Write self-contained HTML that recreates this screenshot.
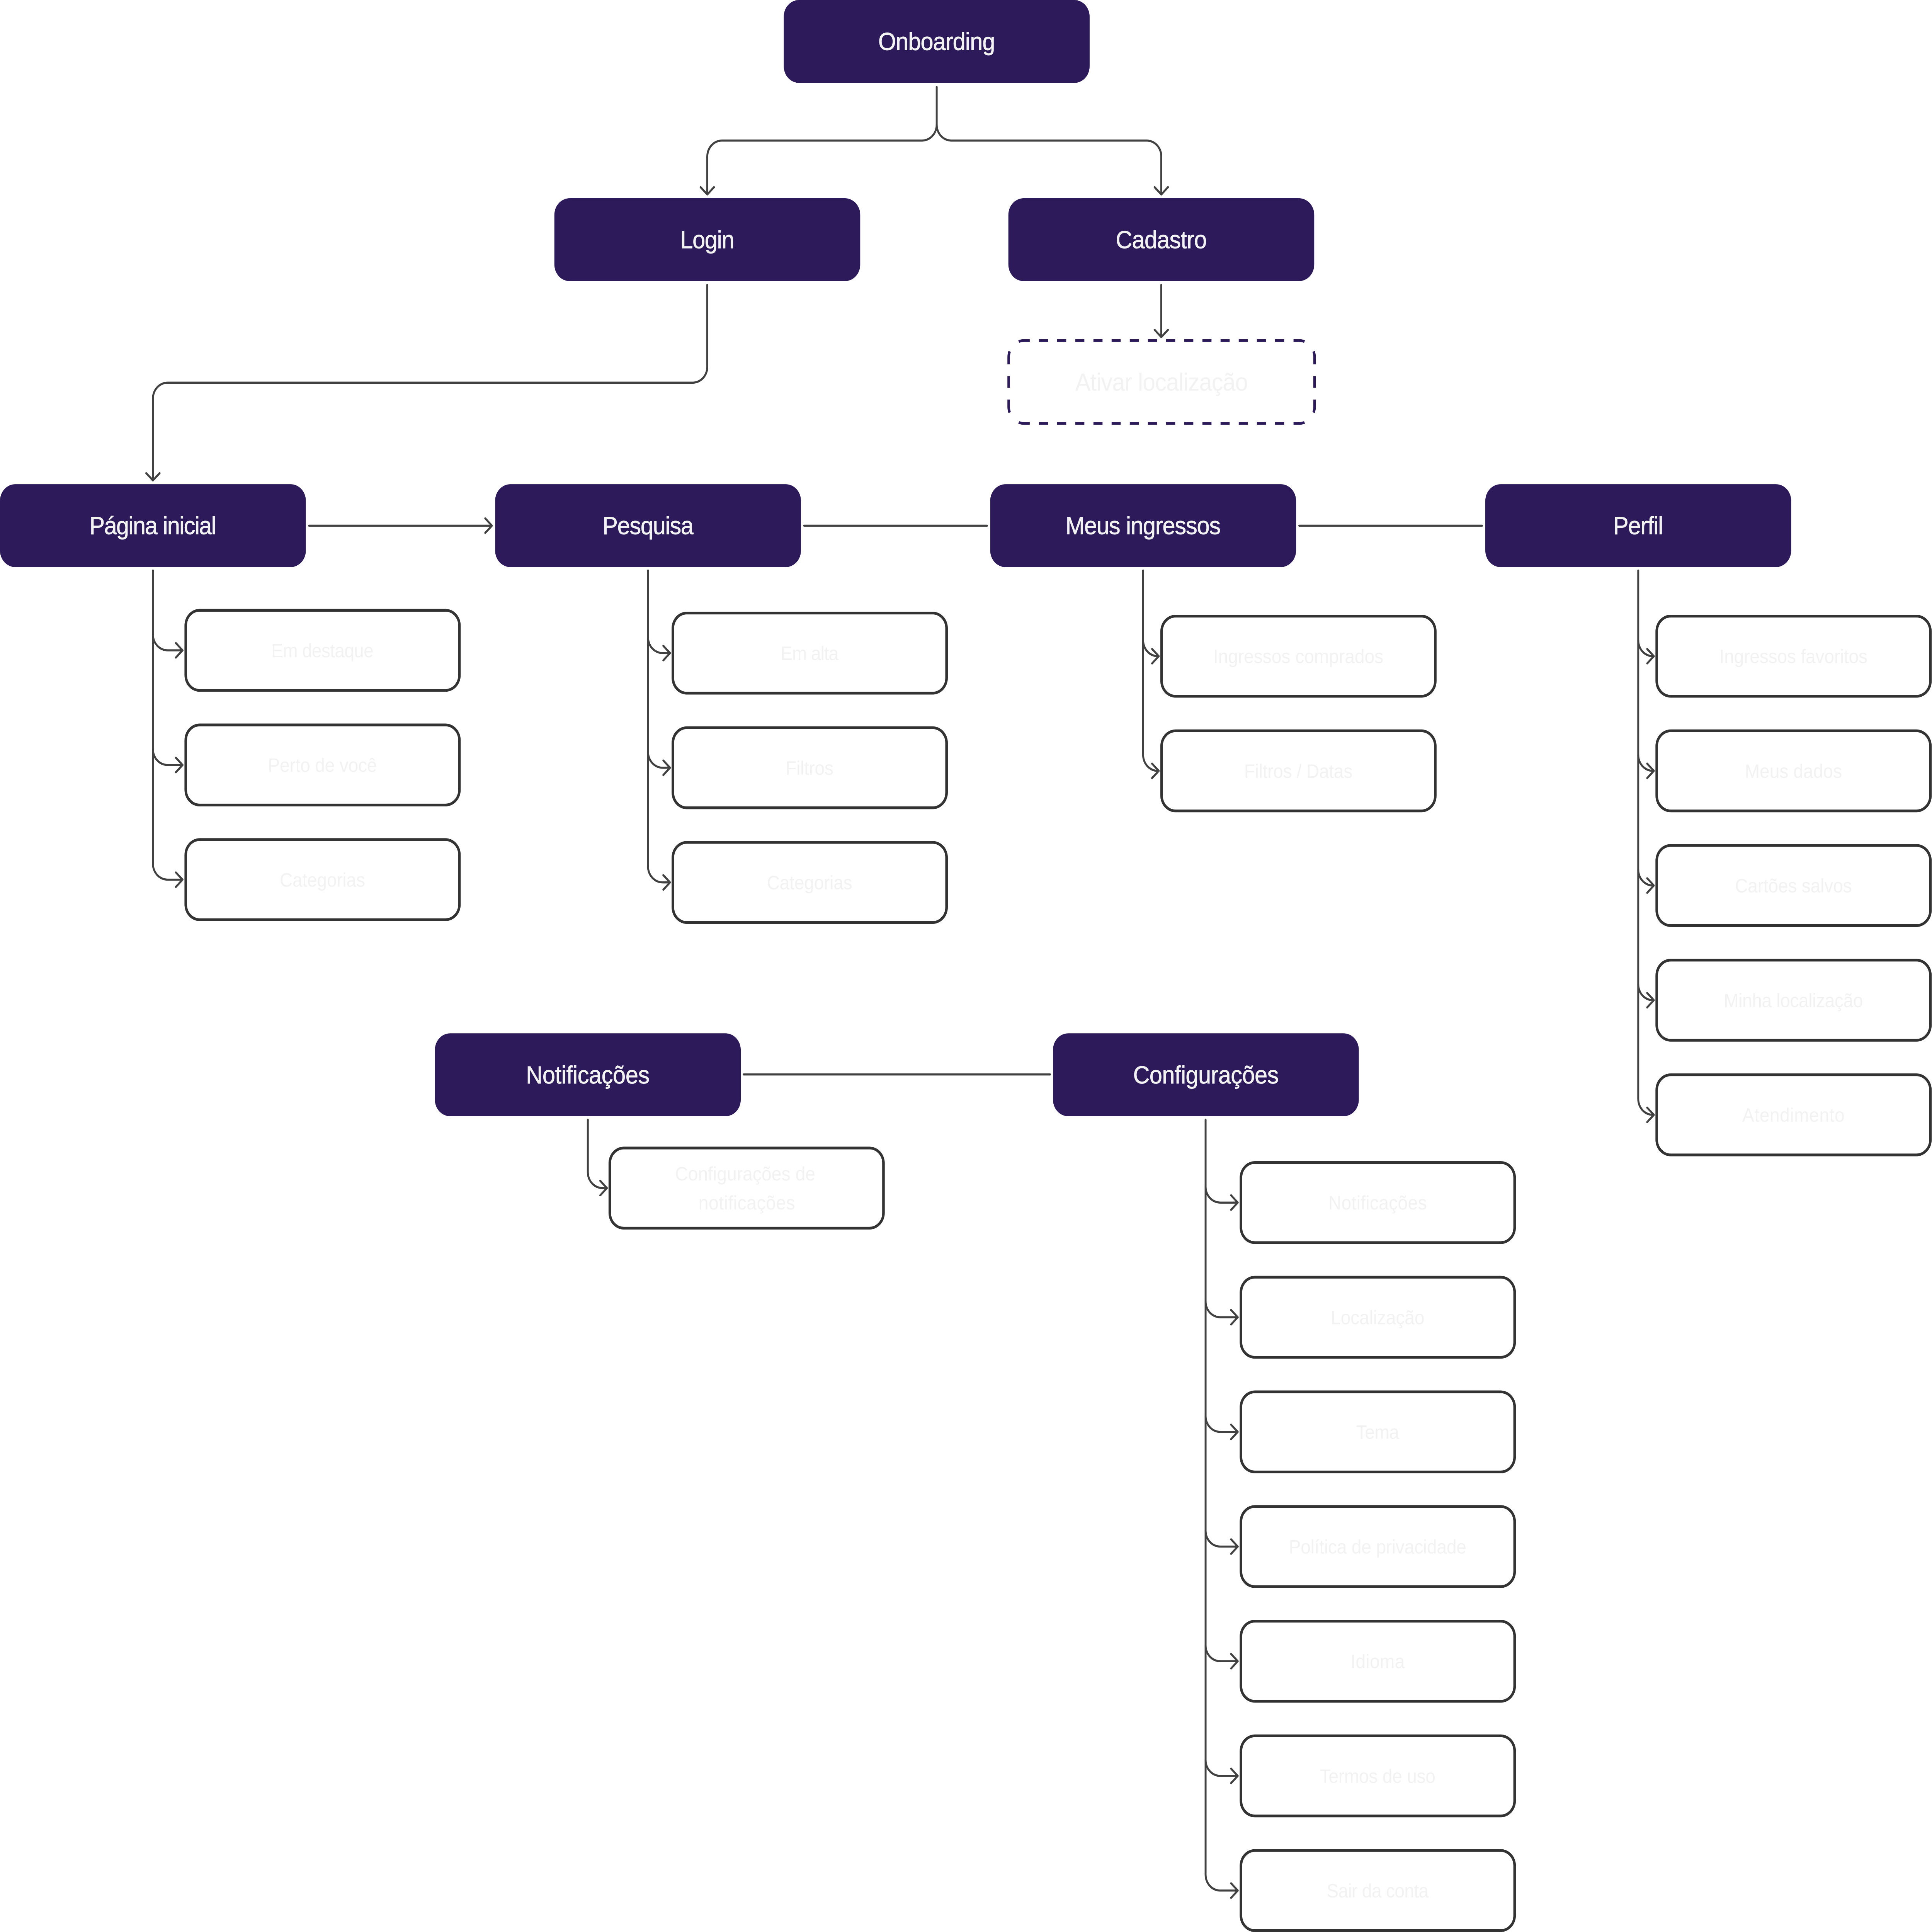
<!DOCTYPE html>
<html lang="pt"><head><meta charset="utf-8"><title>Fluxo</title>
<style>
html,body{margin:0;padding:0;background:#fff;width:100%;height:100%;overflow:hidden}
svg{display:block;width:100vw;height:100vh}
text{font-family:"Liberation Sans",sans-serif;text-anchor:middle;fill:#f2f2f2}
.m{font-size:72px}
.m text{stroke:#f2f2f2;stroke-width:1}
.s{font-size:56px}
.n{fill:#2d1a5b}
.b{fill:#fff;stroke:#333;stroke-width:8}
.l{fill:none;stroke:#414141;stroke-width:6;stroke-linecap:round;stroke-linejoin:round}
.d{fill:none;stroke:#2d1a5b;stroke-width:8}
</style></head><body>
<svg xmlns="http://www.w3.org/2000/svg" viewBox="0 0 6064 5594" preserveAspectRatio="none">
<rect width="6064" height="5594" fill="#fff"/>

<!-- connectors -->
<g class="l">
<path d="M2940 252V361A46 46 0 0 1 2894 407H2266A46 46 0 0 0 2220 453V563M2199 542L2220 563L2241 542"/>
<path d="M2940 361A46 46 0 0 0 2986 407H3599A46 46 0 0 1 3645 453V563M3624 542L3645 563L3666 542"/>
<path d="M3645 825V976M3624 955L3645 976L3666 955"/>
<path d="M2220 825V1062A46 46 0 0 1 2174 1108H526A46 46 0 0 0 480 1154V1391M459 1370L480 1391L501 1370"/>
<path d="M970 1522H1544M1523 1501L1544 1522L1523 1543"/>
<path d="M2524 1522H3098"/>
<path d="M4078 1522H4652"/>
<path d="M2334 3111H3296"/>

<!-- Página inicial -->
<path d="M480 1652V2501A46 46 0 0 0 526 2547H573M552 2526L573 2547L552 2568"/>
<path d="M480 1837A46 46 0 0 0 526 1883H573M552 1862L573 1883L552 1904"/>
<path d="M480 2169A46 46 0 0 0 526 2215H573M552 2194L573 2215L552 2236"/>

<!-- Pesquisa -->
<path d="M2034 1652V2509A46 46 0 0 0 2080 2555H2103M2082 2534L2103 2555L2082 2576"/>
<path d="M2034 1845A46 46 0 0 0 2080 1891H2103M2082 1870L2103 1891L2082 1912"/>
<path d="M2034 2177A46 46 0 0 0 2080 2223H2103M2082 2202L2103 2223L2082 2244"/>

<!-- Meus ingressos -->
<path d="M3588 1652V2186A46 46 0 0 0 3634 2232H3637M3616 2211L3637 2232L3616 2253"/>
<path d="M3588 1854A46 46 0 0 0 3634 1900H3637M3616 1879L3637 1900L3616 1921"/>

<!-- Perfil -->
<path d="M5142 1652V3182A46 46 0 0 0 5188 3228H5191M5170 3207L5191 3228L5170 3249"/>
<path d="M5142 1854A46 46 0 0 0 5188 1900H5191M5170 1879L5191 1900L5170 1921"/>
<path d="M5142 2186A46 46 0 0 0 5188 2232H5191M5170 2211L5191 2232L5170 2253"/>
<path d="M5142 2518A46 46 0 0 0 5188 2564H5191M5170 2543L5191 2564L5170 2585"/>
<path d="M5142 2850A46 46 0 0 0 5188 2896H5191M5170 2875L5191 2896L5170 2917"/>

<!-- Notificações -->
<path d="M1845 3242V3394A46 46 0 0 0 1891 3440H1905M1884 3419L1905 3440L1884 3461"/>

<!-- Configurações -->
<path d="M3784 3242V5428A46 46 0 0 0 3830 5474H3885M3864 5453L3885 5474L3864 5495"/>
<path d="M3784 3436A46 46 0 0 0 3830 3482H3885M3864 3461L3885 3482L3864 3503"/>
<path d="M3784 3768A46 46 0 0 0 3830 3814H3885M3864 3793L3885 3814L3864 3835"/>
<path d="M3784 4100A46 46 0 0 0 3830 4146H3885M3864 4125L3885 4146L3864 4167"/>
<path d="M3784 4432A46 46 0 0 0 3830 4478H3885M3864 4457L3885 4478L3864 4499"/>
<path d="M3784 4764A46 46 0 0 0 3830 4810H3885M3864 4789L3885 4810L3864 4831"/>
<path d="M3784 5096A46 46 0 0 0 3830 5142H3885M3864 5121L3885 5142L3864 5163"/>
</g>

<!-- primary nodes -->
<rect class="n" x="2460" y="0" width="960" height="240" rx="48"/>
<rect class="n" x="1740" y="574" width="960" height="240" rx="48"/>
<rect class="n" x="3165" y="574" width="960" height="240" rx="48"/>
<rect class="n" x="0" y="1402" width="960" height="240" rx="48"/>
<rect class="n" x="1554" y="1402" width="960" height="240" rx="48"/>
<rect class="n" x="3108" y="1402" width="960" height="240" rx="48"/>
<rect class="n" x="4662" y="1402" width="960" height="240" rx="48"/>
<rect class="n" x="1365" y="2992" width="960" height="240" rx="48"/>
<rect class="n" x="3305" y="2992" width="960" height="240" rx="48"/>

<g class="m">
<text x="2940" y="145" textLength="367" lengthAdjust="spacing">Onboarding</text>
<text x="2220" y="719" textLength="170" lengthAdjust="spacing">Login</text>
<text x="3645" y="719" textLength="286" lengthAdjust="spacing">Cadastro</text>
<text x="480" y="1547" textLength="398" lengthAdjust="spacing">Página inicial</text>
<text x="2034" y="1547" textLength="286" lengthAdjust="spacing">Pesquisa</text>
<text x="3588" y="1547" textLength="487" lengthAdjust="spacing">Meus ingressos</text>
<text x="5142" y="1547" textLength="157" lengthAdjust="spacing">Perfil</text>
<text x="1845" y="3137" textLength="388" lengthAdjust="spacing">Notificações</text>
<text x="3785" y="3137" textLength="457" lengthAdjust="spacing">Configurações</text>
</g>
<text class="s" style="font-size:72px" x="3646" y="1131" textLength="542" lengthAdjust="spacing">Ativar localização</text>

<!-- dashed node -->
<g class="d">
<path stroke-dasharray="38 41.4 35" d="M3166 1055V1034A48 48 0 0 1 3214 986H3232"/>
<path stroke-dasharray="38 41.4 35" d="M4126 1055V1034A48 48 0 0 0 4078 986H4060"/>
<path stroke-dasharray="38 41.4 35" d="M3166 1157V1178A48 48 0 0 0 3214 1226H3232"/>
<path stroke-dasharray="38 41.4 35" d="M4126 1157V1178A48 48 0 0 1 4078 1226H4060"/>
<path d="M3166 1089V1123M4126 1089V1123"/>
<path stroke-dasharray="28.5 28.5" d="M3261 986H4031M3261 1226H4031"/>
</g>

<!-- secondary nodes -->
<g>
<rect class="b" x="583" y="1767" width="859" height="232" rx="44"/>
<rect class="b" x="583" y="2099" width="859" height="232" rx="44"/>
<rect class="b" x="583" y="2431" width="859" height="232" rx="44"/>
<rect class="b" x="2112" y="1775" width="859" height="232" rx="44"/>
<rect class="b" x="2112" y="2107" width="859" height="232" rx="44"/>
<rect class="b" x="2112" y="2439" width="859" height="232" rx="44"/>
<rect class="b" x="3646" y="1784" width="859" height="232" rx="44"/>
<rect class="b" x="3646" y="2116" width="859" height="232" rx="44"/>
<rect class="b" x="5200" y="1784" width="859" height="232" rx="44"/>
<rect class="b" x="5200" y="2116" width="859" height="232" rx="44"/>
<rect class="b" x="5200" y="2448" width="859" height="232" rx="44"/>
<rect class="b" x="5200" y="2780" width="859" height="232" rx="44"/>
<rect class="b" x="5200" y="3112" width="859" height="232" rx="44"/>
<rect class="b" x="1914" y="3324" width="859" height="232" rx="44"/>
<rect class="b" x="3895" y="3366" width="859" height="232" rx="44"/>
<rect class="b" x="3895" y="3698" width="859" height="232" rx="44"/>
<rect class="b" x="3895" y="4030" width="859" height="232" rx="44"/>
<rect class="b" x="3895" y="4362" width="859" height="232" rx="44"/>
<rect class="b" x="3895" y="4694" width="859" height="232" rx="44"/>
<rect class="b" x="3895" y="5026" width="859" height="232" rx="44"/>
<rect class="b" x="3895" y="5358" width="859" height="232" rx="44"/>
</g>

<g class="s">
<text x="1012" y="1903" textLength="321" lengthAdjust="spacing">Em destaque</text>
<text x="1012" y="2235" textLength="342" lengthAdjust="spacing">Perto de você</text>
<text x="1012" y="2567" textLength="268" lengthAdjust="spacing">Categorias</text>
<text x="2541" y="1911" textLength="182" lengthAdjust="spacing">Em alta</text>
<text x="2541" y="2243" textLength="150" lengthAdjust="spacing">Filtros</text>
<text x="2541" y="2575" textLength="268" lengthAdjust="spacing">Categorias</text>
<text x="4075" y="1920" textLength="534" lengthAdjust="spacing">Ingressos comprados</text>
<text x="4075" y="2252" textLength="340" lengthAdjust="spacing">Filtros / Datas</text>
<text x="5629" y="1920" textLength="465" lengthAdjust="spacing">Ingressos favoritos</text>
<text x="5629" y="2252" textLength="305" lengthAdjust="spacing">Meus dados</text>
<text x="5629" y="2584" textLength="367" lengthAdjust="spacing">Cartões salvos</text>
<text x="5629" y="2916" textLength="437" lengthAdjust="spacing">Minha localização</text>
<text x="5629" y="3248" textLength="321" lengthAdjust="spacing">Atendimento</text>
<text x="2339" y="3418" textLength="440" lengthAdjust="spacing">Configurações de</text>
<text x="2344" y="3502" textLength="303" lengthAdjust="spacing">notificações</text>
<text x="4324" y="3502" textLength="309" lengthAdjust="spacing">Notificações</text>
<text x="4324" y="3834" textLength="294" lengthAdjust="spacing">Localização</text>
<text x="4324" y="4166" textLength="135" lengthAdjust="spacing">Tema</text>
<text x="4324" y="4498" textLength="557" lengthAdjust="spacing">Política de privacidade</text>
<text x="4324" y="4830" textLength="170" lengthAdjust="spacing">Idioma</text>
<text x="4324" y="5162" textLength="363" lengthAdjust="spacing">Termos de uso</text>
<text x="4324" y="5494" textLength="320" lengthAdjust="spacing">Sair da conta</text>
</g>
</svg>
</body></html>
